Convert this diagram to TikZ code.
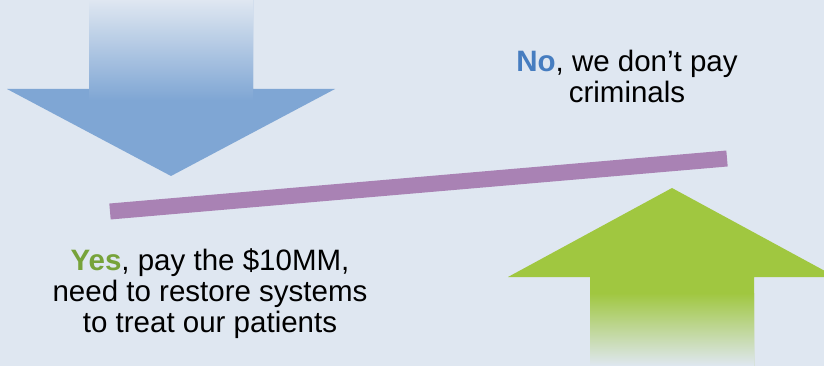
\documentclass[tikz,border=0pt]{standalone}
\usepackage{fontspec}
\setmainfont{Liberation Sans}
\definecolor{bg}{RGB}{223,231,241}
\definecolor{arrowblue}{RGB}{127,166,212}
\definecolor{arrowgreen}{RGB}{160,199,64}
\definecolor{beam}{RGB}{169,130,180}
\definecolor{yesgreen}{RGB}{119,163,58}
\definecolor{noblue}{RGB}{70,125,192}
\begin{document}
\begin{tikzpicture}[x=1pt, y=-1pt, every node/.style={font=\fontsize{29.5}{31.3}\selectfont, align=center, anchor=base, inner sep=0pt}]
% Background
\fill[bg] (0,0) rectangle (824,366);
\useasboundingbox (0,0) rectangle (824,366);
\clip (0,0) rectangle (824,366);
% Down arrow
\fill[arrowblue] (89,0) -- (89,89) -- (7,89) -- (171,176) -- (335,89) -- (253,89) -- (253,0) -- cycle;
\shade[top color=bg, bottom color=arrowblue] (89,0) rectangle (253,100);
% Up arrow
\fill[arrowgreen] (590,366) -- (590,277) -- (508,277) -- (672,188) -- (836,277) -- (754,277) -- (754,366) -- cycle;
\shade[top color=arrowgreen, bottom color=bg] (590,293) rectangle (754,366);
% Beam
\draw[beam, line width=16pt] (110,211.5) -- (727,158.5);
% Labels (base = last line)
\node (no) at (627,102.7) {\textbf{\color{noblue}No}, we don’t pay\\criminals};
\node (yes) at (210,332.7) {\textbf{\color{yesgreen}Yes}, pay the \$10MM,\\need to restore systems\\to treat our patients};
\end{tikzpicture}
\end{document}
